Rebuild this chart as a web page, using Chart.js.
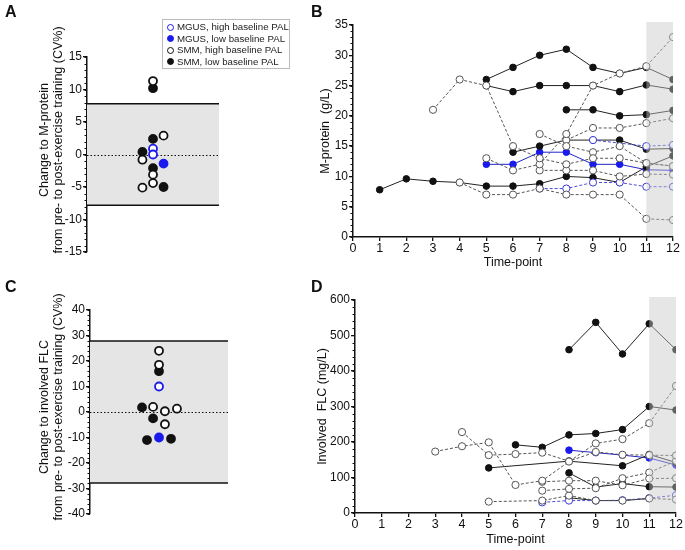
<!DOCTYPE html>
<html>
<head>
<meta charset="utf-8">
<script src="https://cdn.jsdelivr.net/npm/chart.js@4"></script>
<style>
  body { margin:0; background:#fff; font-family:"Liberation Sans", Arial, sans-serif; }
  #wrap { position:relative; width:685px; height:550px; overflow:hidden; }
  canvas { position:absolute; }
  .lab { position:absolute; font-weight:bold; font-size:16px; color:#111; }
  #legend { position:absolute; left:162px; top:19px; width:126px; border:1px solid #bbb; padding:1px 0 1px 0; background:#fff; }
  #legend div { font-size:9.7px; line-height:11.6px; color:#222; white-space:nowrap; padding-left:14px; position:relative; }
  #legend i { position:absolute; left:4px; top:2.5px; width:5px; height:5px; border-radius:50%; border:1.4px solid #111; }
</style>
</head>
<body>
<div id="wrap">
  <canvas id="chA" width="300" height="270" style="left:0;top:0"></canvas>
  <canvas id="chB" width="385" height="275" style="left:300px;top:0"></canvas>
  <canvas id="chC" width="300" height="275" style="left:0;top:275px"></canvas>
  <canvas id="chD" width="385" height="275" style="left:300px;top:275px"></canvas>
  <div class="lab" style="left:5px;top:3px">A</div>
  <div class="lab" style="left:311px;top:3px">B</div>
  <div class="lab" style="left:5px;top:278px">C</div>
  <div class="lab" style="left:311px;top:278px">D</div>
  <div id="legend">
    <div><i style="border-color:#1a1aee;background:#fff"></i>MGUS, high baseline PAL</div>
    <div><i style="border-color:#1a1aee;background:#1a1aee"></i>MGUS, low baseline PAL</div>
    <div><i style="background:#fff"></i>SMM, high baseline PAL</div>
    <div><i style="background:#111"></i>SMM, low baseline PAL</div>
  </div>
</div>
<script>
// ---- panel A : change in M-protein (CV%) ----
const aMgusHighX = [0.5, 0.5];
const aMgusHighY = [0.9, 0.0];
const aMgusLowX = [0.58];
const aMgusLowY = [-1.4];
const aSmmHighX = [0.42, 0.42, 0.5, 0.5, 0.5, 0.58];
const aSmmHighY = [-0.8, -5.1, 11.3, -3.1, -4.4, 2.9];
const aSmmLowX = [0.42, 0.5, 0.5, 0.5, 0.58];
const aSmmLowY = [0.4, 10.2, 2.4, -2.1, -5.0];
const aLimit = 7.8;
const aTitle = ['Change to M-protein', 'from pre- to post-exercise training (CV%)'];

// ---- panel C : change in involved FLC (CV%) ----
const cMgusHighX = [0.5];
const cMgusHighY = [10];
const cMgusLowX = [0.5];
const cMgusLowY = [-10];
const cSmmHighX = [0.5, 0.5, 0.457, 0.543, 0.63, 0.543];
const cSmmHighY = [24, 18.5, 2.0, 0.3, 1.3, -4.8];
const cSmmLowX = [0.5, 0.377, 0.457, 0.413, 0.587];
const cSmmLowY = [16, 1.8, -2.5, -11, -10.5];
const cLimit = 27.8;
const cTitle = ['Change to involved FLC', 'from pre- to post-exercise training (CV%)'];

// ---- panel B : M-protein (g/L) by time-point 1..12 ----
const bSmmLow1 = [7.8, 9.6, 9.2, 9.0, 8.4, 8.4, 8.8, 10.0, 9.8, 9.0, 11.6, 13.4];
const bSmmLow2 = [null, null, null, null, 26, 28, 30, 31, 28, 27, 28, 26];
const bSmmLow3 = [null, null, null, null, 25, 24, 25, 25, 25, 24, 25.1, 24.4];
const bSmmLow4 = [null, null, null, null, null, null, null, 21, 21, 20, 20.2, 20.9];
const bSmmLow5 = [null, null, null, null, null, 14, 15, 16, 16, 16, 14.5, 14.6];
const bMgusLow1 = [null, null, null, null, 12, 12, 14, 14, 12, 12, 11.1, 11.0];
const bSmmHigh1 = [null, null, 21, 26, 25, 15, 13, 12, 13, 13, 12.2, 11.7];
const bSmmHigh2 = [null, null, null, null, 13, 11, 12, 17, 25, 27, 28.2, 33];
const bSmmHigh3 = [null, null, null, null, null, null, 17, 15, 14, 15, 12.2, 11.7];
const bSmmHigh4 = [null, null, null, null, null, null, 11, 11, 11, 10, 10.4, 10.3];
const bSmmHigh5 = [null, null, null, 9.0, 7, 7, 8, 7, 7, 7, 3.0, 2.8];
const bSmmHigh6 = [null, null, null, null, null, null, null, 16, 18, 18, 18.8, 19.6];
const bMgusHigh1 = [null, null, null, null, null, null, 8, 8, 9, 9, 8.3, 8.3];
const bMgusHigh2 = [null, null, null, null, null, null, null, null, 16, null, 15, 15.2];

// ---- panel D : involved FLC (mg/L) by time-point 1..12 ----
const dSmmLow1 = [null, null, null, null, null, null, null, 460, 537, 448, 533, 460];
const dSmmLow2 = [null, null, null, null, null, 192, 185, 220, 224, 235, 300, 290];
const dSmmLow3 = [null, null, null, null, 127, null, null, 146, null, 133, 165, 142];
const dSmmLow4 = [null, null, null, null, null, null, null, 113, 73, 83, 74, 73];
const dSmmLow5 = [null, null, null, null, null, null, null, 43, 35, 35, 41, null];
const dMgusLow1 = [null, null, null, null, null, null, null, 177, 170, 163, 155, 135];
const dMgusHigh1 = [null, null, null, null, null, null, 30, 35, 35, 36, 42, 50];
const dSmmHigh1 = [null, null, 173, 188, 199, 79, 91, 145, 196, 208, 253, 358];
const dSmmHigh2 = [null, null, null, 228, 163, 166, 170, 146, 172, 164, 163, 162];
const dSmmHigh3 = [null, null, null, null, null, null, 88, 91, 91, 78, 97, 98];
const dSmmHigh4 = [null, null, null, null, null, null, 63, 68, 70, 98, 114, 147];
const dSmmHigh5 = [null, null, null, null, 32, null, 35, 49, 35, 35, 41, 38];

const shadeFrom = 11;
const shadeTo = 12;

const FONT = '"Liberation Sans", Arial, sans-serif';
const INK = '#111';
const BLUE = '#1a1aee';
Chart.defaults.font.family = FONT;
Chart.defaults.color = INK;
Chart.defaults.animation = false;

function pts(xs, ys) { return ys.map((y, i) => ({x: xs[i], y: y})); }
function series(arr) {
  return arr.map((v, i) => ({x: i + 1, y: v})).filter(p => p.y !== null);
}

// small outward minor ticks on the y axis
const minorTicks = {
  id: 'minorTicks',
  afterDraw(chart, args, opts) {
    const s = chart.scales.y, c = chart.ctx;
    c.save();
    c.strokeStyle = INK;
    c.lineWidth = 1;
    for (let v = s.min; v <= s.max + 1e-9; v += opts.step) {
      const y = Math.round(s.getPixelForValue(v)) + 0.5;
      c.beginPath();
      c.moveTo(s.right - 2.5, y);
      c.lineTo(s.right, y);
      c.stroke();
    }
    c.restore();
  }
};

// two-line rotated y title, placed by hand (Prism centres it higher than the axis)
const sideTitle = {
  id: 'sideTitle',
  afterDraw(chart, args, opts) {
    const c = chart.ctx;
    c.save();
    c.fillStyle = INK;
    c.font = '12.5px ' + FONT;
    c.textAlign = 'center';
    c.textBaseline = 'middle';
    opts.lines.forEach((t, i) => {
      c.save();
      c.translate(opts.xs[i], opts.cy);
      c.rotate(-Math.PI / 2);
      c.fillText(t, 0, 0);
      c.restore();
    });
    c.restore();
  }
};

// grey band with limit lines for the CV% dot plots
const cvBand = {
  id: 'cvBand',
  beforeDatasetsDraw(chart, args, opts) {
    const {ctx, chartArea: ca, scales: {y}} = chart;
    const top = y.getPixelForValue(opts.limit), bot = y.getPixelForValue(-opts.limit);
    ctx.save();
    ctx.fillStyle = '#e5e5e5';
    ctx.fillRect(ca.left, top, ca.right - ca.left, bot - top);
    ctx.strokeStyle = INK;
    ctx.lineWidth = 1.5;
    [top, bot].forEach(p => {
      ctx.beginPath(); ctx.moveTo(ca.left, p); ctx.lineTo(ca.right, p); ctx.stroke();
    });
    const z = Math.round(y.getPixelForValue(0)) + 0.5;
    ctx.lineWidth = 1;
    ctx.setLineDash([1.5, 2]);
    ctx.beginPath(); ctx.moveTo(ca.left, z); ctx.lineTo(ca.right, z); ctx.stroke();
    ctx.restore();
  }
};

// translucent shade over the last two time-points
const tpShade = {
  id: 'tpShade',
  afterDatasetsDraw(chart) {
    const {ctx, chartArea: ca, scales: {x}} = chart;
    const l = x.getPixelForValue(shadeFrom), r = x.getPixelForValue(shadeTo);
    ctx.save();
    ctx.fillStyle = 'rgba(200,200,200,0.45)';
    ctx.fillRect(l, ca.top - 3, r - l, ca.bottom - ca.top + 2);
    ctx.restore();
  }
};

function yAxis(min, max, step, title, width, titlePad, tickSize) {
  return {
    type: 'linear', min: min, max: max,
    ticks: {stepSize: step, color: INK, font: {size: tickSize}, padding: 1},
    grid: {display: true, drawOnChartArea: false, drawTicks: true, tickLength: 4, color: INK, lineWidth: 1.3},
    border: {display: true, color: INK, width: 1.5},
    title: {display: !!title, text: title || '', color: INK, font: {size: 12.5}, padding: {top: titlePad, bottom: 0}},
    afterFit: s => { s.width = width; }
  };
}

function dotSet(xs, ys, color, filled) {
  return {
    data: pts(xs, ys),
    pointRadius: 4,
    pointBorderWidth: 1.8,
    pointBorderColor: color,
    pointBackgroundColor: filled ? color : '#fff',
    showLine: false
  };
}

function dotChart(id, sets, min, max, step, minor, title, titleCy, limit, pad, yWidth) {
  new Chart(document.getElementById(id), {
    type: 'scatter',
    data: {datasets: sets},
    options: {
      responsive: false,
      layout: {padding: pad},
      plugins: {
        legend: {display: false}, tooltip: {enabled: false},
        cvBand: {limit: limit}, minorTicks: {step: minor},
        sideTitle: {lines: title, xs: [45, 59], cy: titleCy}
      },
      scales: {
        x: {type: 'linear', min: 0, max: 1, display: false},
        y: yAxis(min, max, step, null, yWidth, 0, 12)
      }
    },
    plugins: [cvBand, minorTicks, sideTitle]
  });
}

dotChart('chA', [
  dotSet(aSmmHighX, aSmmHighY, INK, false),
  dotSet(aSmmLowX, aSmmLowY, INK, true),
  dotSet(aMgusHighX, aMgusHighY, BLUE, false),
  dotSet(aMgusLowX, aMgusLowY, BLUE, true)
], -15, 15, 5, 1, aTitle, 140, aLimit, {left: 0, right: 81, top: 57, bottom: 18}, 87);

dotChart('chC', [
  dotSet(cSmmHighX, cSmmHighY, INK, false),
  dotSet(cSmmLowX, cSmmLowY, INK, true),
  dotSet(cMgusHighX, cMgusHighY, BLUE, false),
  dotSet(cMgusLowX, cMgusLowY, BLUE, true)
], -40, 40, 10, 2, cTitle, 132, cLimit, {left: 0, right: 72, top: 35, bottom: 36}, 90);

function lineSet(arr, kind) {
  const base = {data: series(arr), borderWidth: 1, pointRadius: 3.3, pointBorderWidth: 1, tension: 0};
  if (kind === 'smmLow') return Object.assign(base, {borderColor: '#222', pointBackgroundColor: INK, pointBorderColor: INK});
  if (kind === 'mgusLow') return Object.assign(base, {borderColor: '#2222cc', pointBackgroundColor: BLUE, pointBorderColor: BLUE});
  if (kind === 'smmHigh') return Object.assign(base, {borderColor: '#555', borderDash: [3, 2], pointBackgroundColor: '#fff', pointBorderColor: '#555', pointRadius: 3.6});
  return Object.assign(base, {borderColor: '#4a4ad8', borderDash: [3, 2], pointBackgroundColor: '#fff', pointBorderColor: '#3a3ad8', pointRadius: 3.6});
}

function timeChart(id, sets, max, step, minor, title, pad, yWidth, xHeight, titlePadTop, xTitlePad) {
  new Chart(document.getElementById(id), {
    type: 'line',
    data: {datasets: sets},
    options: {
      responsive: false,
      layout: {padding: pad},
      plugins: {legend: {display: false}, tooltip: {enabled: false}, minorTicks: {step: minor}},
      scales: {
        x: {
          type: 'linear', min: 0, max: 12,
          ticks: {stepSize: 1, autoSkip: false, maxRotation: 0, color: INK, font: {size: 12.5, lineHeight: 1}, padding: 1},
          grid: {display: true, drawOnChartArea: false, drawTicks: true, tickLength: 4, color: INK, lineWidth: 1.3},
          border: {display: true, color: INK, width: 1.5},
          title: {display: true, text: 'Time-point', color: INK, font: {size: 12.5}, padding: {top: 0, bottom: xTitlePad}},
          afterFit: s => { s.height = xHeight; }
        },
        y: yAxis(0, max, step, title, yWidth, titlePadTop, 12)
      }
    },
    plugins: [tpShade, minorTicks]
  });
}

timeChart('chB', [
  lineSet(bSmmHigh1, 'smmHigh'), lineSet(bSmmHigh2, 'smmHigh'), lineSet(bSmmHigh3, 'smmHigh'),
  lineSet(bSmmHigh4, 'smmHigh'), lineSet(bSmmHigh5, 'smmHigh'), lineSet(bSmmHigh6, 'smmHigh'),
  lineSet(bMgusHigh1, 'mgusHigh'), lineSet(bMgusHigh2, 'mgusHigh'),
  lineSet(bSmmLow1, 'smmLow'), lineSet(bSmmLow2, 'smmLow'), lineSet(bSmmLow3, 'smmLow'),
  lineSet(bSmmLow4, 'smmLow'), lineSet(bSmmLow5, 'smmLow'),
  lineSet(bMgusLow1, 'mgusLow')
], 35, 5, 1, 'M-protein  (g/L)', {left: 0, right: 12, top: 25, bottom: 0}, 53, 38, 18, 5);

timeChart('chD', [
  lineSet(dSmmHigh1, 'smmHigh'), lineSet(dSmmHigh2, 'smmHigh'), lineSet(dSmmHigh3, 'smmHigh'),
  lineSet(dSmmHigh4, 'smmHigh'), lineSet(dSmmHigh5, 'smmHigh'),
  lineSet(dMgusHigh1, 'mgusHigh'),
  lineSet(dSmmLow1, 'smmLow'), lineSet(dSmmLow2, 'smmLow'), lineSet(dSmmLow3, 'smmLow'),
  lineSet(dSmmLow4, 'smmLow'), lineSet(dSmmLow5, 'smmLow'),
  lineSet(dMgusLow1, 'mgusLow')
], 600, 100, 20, 'Involved  FLC (mg/L)', {left: 0, right: 9, top: 25, bottom: 0}, 55, 37, 15, 3);
</script>
</body>
</html>
